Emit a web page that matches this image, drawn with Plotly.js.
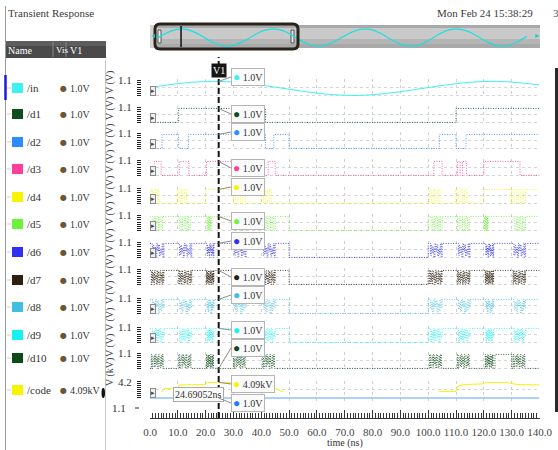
<!DOCTYPE html>
<html><head><meta charset="utf-8">
<script src="https://cdn.plot.ly/plotly-3.0.1.min.js"></script>
<style>html,body{margin:0;padding:0;background:#fff;}#chart{width:558px;height:450px;}</style>
</head><body><div id="chart"></div>
<script>
// ---------------- DATA ----------------
const signalNames = ['/in','/d1','/d2','/d3','/d4','/d5','/d6','/d7','/d8','/d9','/d10','/code'];
const signalColors = ['#3ff0f0','#0f4d1c','#2a8cff','#ff3d9a','#f5f500','#6cf23a','#3030f0','#2e2010','#40bfe0','#16f2f2','#0d4a1a','#f5f500'];
const legendValues = ['1.0V','1.0V','1.0V','1.0V','1.0V','1.0V','1.0V','1.0V','1.0V','1.0V','1.0V','4.09kV'];
const cursorTime = 24.69052;
const cursorLabel = '24.69052ns';
const xTickVals = [0,10,20,30,40,50,60,70,80,90,100,110,120,130,140];

// analog input (V)
const inT = [0,5,10,15,20,25,30,35,40,45,50,55,60,65,70,75,80,85,90,95,100,105,110,115,120,125,130,135,140];
const inV = [0.56,0.71,0.84,0.94,0.99,1.00,0.95,0.86,0.74,0.59,0.44,0.29,0.16,0.06,0.01,0.00,0.05,0.14,0.26,0.41,0.56,0.71,0.84,0.94,0.99,1.00,0.95,0.86,0.74];

// digital bits: base step levels (V)
const d1T = [0,10.3,41.5,110,140];            const d1V = [0,1,0,1,1];
const d2T = [0,4.3,10.3,13.8,41.5,44.5,50,104,110,113.6,140]; const d2V = [0,1,0,1,0,1,0,1,0,1,1];
const d3T = [0,1.5,4,10.5,14,20.3,41,42.5,45,102,105,110.5,111.5,112.3,113.8,120,133,140];
const d3V = [0,1,0,1,0,1,0,1,0,1,0,1,0,1,0,1,0,0];
const d4T = [0,20,30,120,130,135,140];        const d4V = [0,1,0,1,0,1,1];
const d5T = [0,50,100,140];                   const d5V = [1,0,1,1];
const d6T = [0,50,100,140];                   const d6V = [1,0,1,1];
const d7T = [0,50,100,140];                   const d7V = [1,0,1,1];
const d8T = [0,50,100,140];                   const d8V = [1,0,1,1];
const d9T = [0,50,100,140];                   const d9V = [1,0,1,1];
const d10T = [0,124,130,140];                 const d10V = [0,1,0,0];

// conversion bursts: windows (ns) and toggling levels read from the bursts
const d4Win = [[0.3,3.6],[9.8,13.8],[30,35],[40,44.5],[100.5,105],[109.8,114.7],[130,135]];
const d5Win = [[0.5,4.5],[10,14.5],[20.3,22],[30,34.5],[40.5,45],[100.5,105],[110,114.7],[120,121.5],[130.5,135]];
const burstWin = [[0.5,5],[10.3,15],[20.3,23],[30,34.5],[40.5,45],[100.5,105],[110.5,115],[120.5,123.5],[130.5,135]];
const d4Lev = [1,0,1,0,1,0];
const d5Lev = [1,0,1,0,1,0,1,0];
const d6Lev = [1,0.15,0.85,0.3,0.7,0,1,0.45,0.9,0.1,0.6,0.25,1,0];
const d7Lev = [0,1,0.2,0.8,0,1,0.35,0.65,0,1,0.1,0.9,0.5,0,1,0.3,0.75,0,1,0.15];
const d8Lev = [1,0.3,0.8,0.1,1,0.5,0.9,0,0.7,0.2,1,0.4];
const d9Lev = [1,0,0.8,0.2,1,0.1,0.9,0.3,1,0,0.7,0.4];
const d10Lev = [1,0,0.6,0.9,0.1,1,0.3,0.8,0,1,0.45,0.05,0.9,0.2,1,0];

// code (kV)
const codeT = [0,3,5,10,10.5,20,20.5,40,42,48,50,50.5,100,104,110,110.5,113,120,120.5,128,132,140];
const codeV = [0.6,0.6,2.4,2.6,3.4,3.5,4.09,4.09,3.5,1.4,1.3,0,0,1.6,1.6,3.0,3.5,3.7,4.1,4.1,3.5,3.4];
// extra blue trace in the bottom strip
const blueT = [0,140]; const blueV = [1.0,1.0];

// overview strip (whole run of /in)
const ovT = [0,10,20,30,40,50,60,70,80,90,100,110,120,130,140,150,160,170,180,190,200,210,220,230,240,250,260,270,280,290,300,310,320,330,340,350,360,370,380];
const ovV = [0.45,0.77,0.97,0.97,0.77,0.45,0.15,0.00,0.07,0.32,0.65,0.91,1.00,0.88,0.59,0.26,0.04,0.02,0.20,0.51,0.81,0.99,0.96,0.73,0.40,0.12,0.00,0.09,0.37,0.70,0.94,0.99,0.84,0.54,0.22,0.02,0.03,0.25,0.57];

// ---------------- LAYOUT GEOMETRY ----------------
const W = 558, H = 450;
const FONT = 'Liberation Serif';
const X0 = 150, X1 = 539.5;           // pixel of 0 ns and 140 ns
const rowTop = [80,107,133,160,188,215,242,269,298,327,353,382]; // pixel of top tick per strip
const vScale = 14;                     // px per volt
const kScale = 3.81;                   // px per kV
const px = p => p / W;
const py = p => 1 - p / H;

function baseAt(bt, bv, t) { let v = bv[0]; for (let i = 0; i < bt.length; i++) { if (bt[i] <= t) v = bv[i]; } return v; }
function stepSeries(bt, bv, wins, lev) {
  const ev = [];
  for (let i = 0; i < bt.length; i++) {
    const t = bt[i];
    if (!wins.some(w => t > w[0] && t < w[1])) ev.push([t, bv[i]]);
  }
  wins.forEach(w => {
    const dt = (w[1] - w[0]) / lev.length;
    lev.forEach((p, k) => ev.push([w[0] + k * dt, p]));
    ev.push([w[1], baseAt(bt, bv, w[1] + 1e-6)]);
  });
  ev.sort((a, b) => a[0] - b[0]);
  return { x: ev.map(e => e[0]), y: ev.map(e => e[1]) };
}

const series = [
  { x: inT, y: inV },
  { x: d1T, y: d1V },
  { x: d2T, y: d2V },
  { x: d3T, y: d3V },
  stepSeries(d4T, d4V, d4Win, d4Lev),
  stepSeries(d5T, d5V, d5Win, d5Lev),
  stepSeries(d6T, d6V, burstWin, d6Lev),
  stepSeries(d7T, d7V, burstWin, d7Lev),
  stepSeries(d8T, d8V, burstWin, d8Lev),
  stepSeries(d9T, d9V, burstWin, d9Lev),
  stepSeries(d10T, d10V, burstWin, d10Lev),
  { x: codeT, y: codeV }
];

const traces = [];
series.forEach((s, i) => {
  const yref = i === 0 ? 'y' : 'y' + (i + 1);
  const analog = (i === 0 || i === 11);
  traces.push({
    type: 'scatter', mode: 'lines', x: s.x, y: s.y, xaxis: 'x', yaxis: yref,
    opacity: analog ? 1 : 0.85,
    line: { color: signalColors[i], width: 1, shape: i === 0 ? 'spline' : (analog ? 'linear' : 'hv'), dash: analog ? 'solid' : '1px,1.5px' },
    hoverinfo: 'skip'
  });
});
traces.push({ type: 'scatter', mode: 'lines', x: blueT, y: blueV, xaxis: 'x', yaxis: 'y13',
  line: { color: '#8fc2ff', width: 1.5 }, hoverinfo: 'skip' });
traces.push({ type: 'scatter', mode: 'lines', x: ovT, y: ovV, xaxis: 'x2', yaxis: 'y14',
  line: { color: '#19e0e0', width: 1.2, shape: 'spline' }, hoverinfo: 'skip' });

const layout = {
  width: W, height: H, margin: { l: 0, r: 0, t: 0, b: 0 },
  paper_bgcolor: '#fff', plot_bgcolor: '#fff', showlegend: false, hovermode: false,
  font: { family: FONT, size: 10, color: '#333' },
  xaxis: {
    domain: [px(X0), px(X1)], range: [0, 140], anchor: 'free', position: py(418),
    tickvals: xTickVals, ticktext: xTickVals.map(v => v.toFixed(1)),
    ticks: 'inside', ticklen: 8, tickcolor: '#333', tickwidth: 1,
    minor: { dtick: 1, tick0: 0, ticks: 'inside', ticklen: 5, tickcolor: '#333', showgrid: false },
    showline: true, linecolor: '#333', linewidth: 1, zeroline: false,
    showgrid: true, gridcolor: '#cfcfcf', griddash: 'dot', gridwidth: 1,
    tickfont: { family: FONT, size: 11, color: '#444' }, ticklabelstandoff: 4
  },
  xaxis2: { domain: [px(157), px(527)], range: [0, 380], anchor: 'y14', visible: false },
  yaxis14: { domain: [py(47), py(28)], range: [-0.05, 1.05], anchor: 'x2', visible: false },
  yaxis13: { domain: [py(404), py(392)], range: [0, 2], anchor: 'x', visible: false },
  shapes: [], annotations: []
};

rowTop.forEach((L, i) => {
  const key = i === 0 ? 'yaxis' : 'yaxis' + (i + 1);
  const isCode = i === 11;
  const top = isCode ? L - 0.15 * kScale : L - 0.05 * vScale;
  const bot = isCode ? L + 4.35 * kScale : L + 1.2 * vScale;
  layout[key] = {
    domain: [py(bot), py(top)],
    range: isCode ? [-0.3, 4.35] : [-0.1, 1.15],
    anchor: 'free', position: px(141), side: 'left',
    tickvals: isCode ? [0, 2.1, 4.2] : [0, 0.55, 1.1],
    ticktext: isCode ? ['', '', '4.2'] : ['', '', '1.1'],
    ticks: 'outside', ticklen: 4, tickcolor: '#222', tickwidth: 1,
    minor: { dtick: isCode ? 0.55 : 0.15, tick0: 0, ticks: 'outside', ticklen: 4, tickcolor: '#222', showgrid: false },
    showgrid: true, gridcolor: '#d6d6d6', griddash: 'dot', zeroline: false, showline: false,
    tickfont: { family: FONT, size: 11, color: '#333' }, ticklabelstandoff: 3
  };
});

const S = layout.shapes, A = layout.annotations;
const rect = (x0, y0, x1, y1, fill, line, lw) => S.push({ type: 'rect', xref: 'paper', yref: 'paper', x0: px(x0), x1: px(x1), y0: py(y1), y1: py(y0), fillcolor: fill, line: { color: line || fill, width: lw === undefined ? 0 : lw }, layer: 'below' });
const vline = (x, y0, y1, color, w) => S.push({ type: 'line', xref: 'paper', yref: 'paper', x0: px(x), x1: px(x), y0: py(y1), y1: py(y0), line: { color: color, width: w }, layer: 'above' });
const text = (x, y, t, opts) => A.push(Object.assign({ xref: 'paper', yref: 'paper', x: px(x), y: py(y), text: t, showarrow: false, xanchor: 'left', yanchor: 'middle', font: { family: FONT, size: 11, color: '#333' } }, opts || {}));

// ---- top bar ----
text(6, 13, 'Transient Response', { font: { family: FONT, size: 11, color: '#3a3a3a' } });
text(535, 13, 'Mon Feb 24 15:38:29', { xanchor: 'right', font: { family: FONT, size: 11, color: '#3a3a3a' } });
text(551, 13, '3', { font: { family: FONT, size: 11, color: '#555' } });
// overview band
rect(150, 25, 540, 48, '#a9a9a9');
rect(150, 28, 540, 39, '#c9c9c9');
rect(150, 39, 540, 44, '#b5b5b5');
rect(150, 25, 157, 48, '#d4d4d4');
S.push({ type: 'path', xref: 'paper', yref: 'paper', layer: 'above',
  path: `M ${px(160)},${py(24)} L ${px(293)},${py(24)} Q ${px(298)},${py(24)} ${px(298)},${py(29)} L ${px(298)},${py(44)} Q ${px(298)},${py(49)} ${px(293)},${py(49)} L ${px(160)},${py(49)} Q ${px(155)},${py(49)} ${px(155)},${py(44)} L ${px(155)},${py(29)} Q ${px(155)},${py(24)} ${px(160)},${py(24)} Z`,
  line: { color: '#2a231a', width: 3 }, fillcolor: 'rgba(0,0,0,0)' });
rect(158, 30, 161, 43, '#f2f2f2', '#555', 1);
rect(291, 30, 294, 43, '#e6e6e6', '#555', 1);
S.push({ type: 'line', xref: 'x2', yref: 'paper', x0: cursorTime, x1: cursorTime, y0: py(47), y1: py(26), line: { color: '#111', width: 1.5 } });
text(153, 36, '◂', { xanchor: 'center', font: { family: 'DejaVu Sans', size: 8, color: '#19c8d8' } });
text(537, 36, '▸', { xanchor: 'center', font: { family: 'DejaVu Sans', size: 8, color: '#19c8d8' } });

// ---- left panel ----
vline(5.5, 6, 450, '#9a9a9a', 1);
vline(105.5, 60, 450, '#c8c8c8', 1);
S.push({ type: 'line', xref: 'paper', yref: 'paper', x0: px(5.5), x1: px(5.5), y0: py(100), y1: py(75), line: { color: '#1c1cd8', width: 2.5 }, layer: 'above' });
rect(6, 41, 106, 58, '#4a4a4a');
rect(6, 41, 106, 46, '#5e5e5e');
vline(53, 42, 57, '#888', 1);
vline(66, 42, 57, '#888', 1);
text(6, 50, 'Name', { font: { family: FONT, size: 10, color: '#fff' } });
text(54, 50, 'Vis', { font: { family: FONT, size: 9, color: '#fff' } });
text(68, 50, 'V1', { font: { family: FONT, size: 10, color: '#fff' } });
const legendY = [88,114,142,169,197,224,252,280,307,335,358,390];
signalNames.forEach((n, i) => {
  const y = legendY[i];
  rect(12, y - 5, 23, y + 5, signalColors[i]);
  S.push({ type: 'line', xref: 'paper', yref: 'paper', x0: px(7), x1: px(11), y0: py(y), y1: py(y), line: { color: '#cfcfcf', width: 1 }, layer: 'below' });
  text(25, y, n, { font: { family: FONT, size: 11, color: '#333' } });
  text(58, y, '●', { font: { family: 'DejaVu Sans', size: 8, color: '#6e5432' } });
  text(68, y, legendValues[i], { font: { family: FONT, size: 10, color: '#333' } });
});
S.push({ type: 'circle', xref: 'paper', yref: 'paper', x0: px(101.5), x1: px(105), y0: py(398), y1: py(388), fillcolor: '#111', line: { width: 0 } });

// ---- strip decorations ----
const labelY = [83,109,136,162,188,214,241,267,293,320,346,372];
labelY.forEach((y, i) => {
  text(110, y, i === 11 ? 'V (kV)' : 'V (V)', { xanchor: 'center', textangle: -90, font: { family: FONT, size: 10, color: '#444' } });
});
text(128, 408, '1.1', { xanchor: 'right', font: { family: FONT, size: 11, color: '#333' } });
S.push({ type: 'line', xref: 'paper', yref: 'paper', x0: px(135), x1: px(139), y0: py(408), y1: py(408), line: { color: '#222', width: 1 } });
const boxRows = [0,1,2,3,4,5,6,8,9,11];
boxRows.forEach(i => {
  text(153, rowTop[i] + 11, '▸', { xanchor: 'center', bgcolor: '#f0f0f0', bordercolor: '#8a8a8a', borderwidth: 1, borderpad: 0, font: { family: 'DejaVu Sans', size: 7, color: '#444' } });
});
// scrollbar on right
rect(555, 68, 558, 412, '#2a2a2a');

// ---- cursor V1 ----
const cursorPx = X0 + cursorTime * (X1 - X0) / 140;
S.push({ type: 'line', xref: 'x', yref: 'paper', x0: cursorTime, x1: cursorTime, y0: py(418), y1: py(57), line: { color: '#151515', width: 2, dash: '6px,3px' }, layer: 'above' });
A.push({ xref: 'x', yref: 'paper', x: cursorTime, y: py(63), text: 'V1', showarrow: false, bgcolor: '#151515', borderpad: 1, font: { family: FONT, size: 10, color: '#fff' } });
A.push({ xref: 'paper', yref: 'paper', x: px(198), y: py(402), text: cursorLabel, showarrow: false, bgcolor: '#fbfbfb', bordercolor: '#aaa', borderwidth: 1, borderpad: 1, font: { family: FONT, size: 10, color: '#333' } });

function valueAt(s, t, linear) {
  for (let i = s.x.length - 1; i >= 0; i--) {
    if (s.x[i] <= t) {
      if (linear && i < s.x.length - 1) { const f = (t - s.x[i]) / (s.x[i + 1] - s.x[i]); return s.y[i] + f * (s.y[i + 1] - s.y[i]); }
      return s.y[i];
    }
  }
  return s.y[0];
}
const calloutBoxY = [77,114,132,168,187,221,241,277,295,330,348,384];
series.forEach((s, i) => {
  const isCode = i === 11;
  const v = valueAt(s, cursorTime, i === 0 || isCode);
  const pyVal = isCode ? rowTop[i] + (4.2 - v) * kScale : rowTop[i] + (1.1 - v) * vScale;
  A.push({ xref: 'x', yref: i === 0 ? 'y' : 'y' + (i + 1), x: cursorTime, y: v,
    text: `<span style="color:${signalColors[i]};font-size:12px">●</span> ${legendValues[i]}`,
    showarrow: true, arrowhead: 0, arrowwidth: 1, arrowcolor: '#8c8c8c', standoff: 0,
    ax: 231 - cursorPx, ay: calloutBoxY[i] - pyVal, xanchor: 'left', yanchor: 'middle',
    bgcolor: '#fbfbfb', bordercolor: '#b5b5b5', borderwidth: 1, borderpad: 1,
    font: { family: FONT, size: 10, color: '#333' } });
});
A.push({ xref: 'x', yref: 'y13', x: cursorTime, y: blueV[0],
  text: '<span style="color:#1e7cff;font-size:12px">●</span> 1.0V',
  showarrow: true, arrowhead: 0, arrowwidth: 1, arrowcolor: '#8c8c8c', standoff: 0,
  ax: 231 - cursorPx, ay: 403 - 398, xanchor: 'left', yanchor: 'middle',
  bgcolor: '#fbfbfb', bordercolor: '#b5b5b5', borderwidth: 1, borderpad: 1,
  font: { family: FONT, size: 10, color: '#333' } });

// axis title
text(345, 443, 'time (ns)', { xanchor: 'center', font: { family: FONT, size: 10, color: '#333' } });

Plotly.newPlot('chart', traces, layout, { staticPlot: true, displayModeBar: false });
</script>
</body></html>
